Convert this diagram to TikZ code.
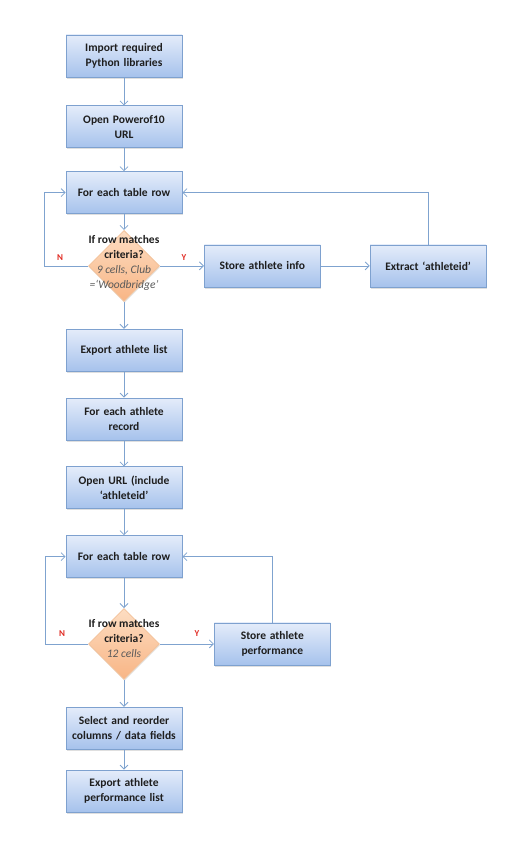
\documentclass[tikz,border=0pt]{standalone}
\usepackage{fontspec}
\setmainfont{Carlito}
\usetikzlibrary{shapes.geometric, arrows.meta, positioning, calc, shadows}
\definecolor{boxtop}{HTML}{E4ECFA}
\definecolor{boxbot}{HTML}{A6C2EC}
\definecolor{boxline}{HTML}{7EA1CF}
\definecolor{decitop}{HTML}{FDDDC2}
\definecolor{decibot}{HTML}{F8B585}
\definecolor{deciline}{HTML}{F3C29A}
\definecolor{flowline}{HTML}{7FA3CF}
\definecolor{notegray}{HTML}{5A5A5A}
\definecolor{ynred}{HTML}{E02A22}
\definecolor{boxtext}{HTML}{1E1E1E}

\begin{document}
\begin{tikzpicture}[
    x=1pt, y=-1pt,
    every node/.style={font=\fontsize{11.5}{15}\selectfont, text=boxtext},
    box/.style={
        rectangle,
        draw=boxline,
        top color=boxtop,
        bottom color=boxbot,
        line width=0.8pt,
        minimum height=42pt,
        minimum width=116pt,
        text width=114pt,
        inner xsep=1pt,
        align=center,
        font=\fontsize{11.5}{14.5}\selectfont\bfseries,
        drop shadow={shadow xshift=0.6pt, shadow yshift=-1.6pt, opacity=0.25}
    },
    decision/.style={
        diamond,
        draw=deciline,
        top color=decitop,
        bottom color=decibot,
        line width=0.8pt,
        minimum width=71pt,
        minimum height=71pt,
        inner sep=0pt,
        drop shadow={shadow xshift=0.6pt, shadow yshift=-1.6pt, opacity=0.2}
    },
    decitext/.style={
        align=center,
        font=\fontsize{11.5}{15}\selectfont
    },
    flow/.style={
        -{Straight Barb[length=4pt, width=8pt]},
        line width=0.8pt,
        draw=flowline
    },
    ynlabel/.style={
        font=\fontsize{9}{10}\selectfont\bfseries,
        text=ynred
    }
]
\useasboundingbox (0,0) rectangle (522,842);

% Nodes - first pass
\node[box] (imp) at (124,56) {Import required\\Python libraries};
\node[box, below=28pt of imp] (url) {Open Powerof10\\URL};
\node[box, below=23pt of url] (row1) {For each table row};
\node[decision, below=16pt of row1] (crit1) {};
\node[decitext] (crit1txt) at ($(crit1)+(0,-3)$) {\textbf{If row matches}\\\textbf{criteria?}\\{\itshape\color{notegray}9 cells, Club}\\{\itshape\color{notegray}=‘Woodbridge’}};
\node[box, right=44pt of crit1] (info) {Store athlete info};
\node[box, right=49pt of info] (extract) {Extract ‘athleteid’};

% Nodes - second pass
\node[box, below=27pt of crit1] (export) {Export athlete list};
\node[box, below=26pt of export] (each) {For each athlete\\record};
\node[box, below=26pt of each] (open) {Open URL (include\\‘athleteid’};
\node[box, below=26pt of open] (row2) {For each table row};
\node[decision, below=30pt of row2] (crit2) {};
\node[decitext] (crit2txt) at ($(crit2)+(0,-5)$) {\textbf{If row matches}\\\textbf{criteria?}\\{\itshape\color{notegray}12 cells}};
\node[box, right=54pt of crit2] (perf) {Store athlete\\performance};
\node[box, below=27pt of crit2] (select) {Select and reorder\\columns / data fields};
\node[box, below=20pt of select] (final) {Export athlete\\performance list};

% Arrows - main column
\draw[flow] (imp) -- (url);
\draw[flow] (url) -- (row1);
\draw[flow] (row1) -- (crit1);
\draw[flow] (crit1) -- (export);
\draw[flow] (export) -- (each);
\draw[flow] (each) -- (open);
\draw[flow] (open) -- (row2);
\draw[flow] (row2) -- (crit2);
\draw[flow] (crit2) -- (select);
\draw[flow] (select) -- (final);

% Loops
\draw[flow] (crit1.east) -- (info.west);
\draw[flow] (info.east) -- (extract.west);
\draw[flow] (extract.north) |- (row1.east);
\draw[flow] (crit1.west) -- ++(-44,0) |- (row1.west);
\draw[flow] (crit2.east) -- (perf.west);
\draw[flow] (perf.north) |- (row2.east);
\draw[flow] (crit2.west) -- ++(-43,0) |- (row2.west);

% Labels
\node[ynlabel] (n1) at ($(crit1.west)+(-28,-8)$) {N};
\node[ynlabel] (y1) at ($(crit1.east)+(24,-8)$) {Y};
\node[ynlabel] (n2) at ($(crit2.west)+(-26,-10)$) {N};
\node[ynlabel] (y2) at ($(crit2.east)+(37,-10)$) {Y};

\end{tikzpicture}
\end{document}
